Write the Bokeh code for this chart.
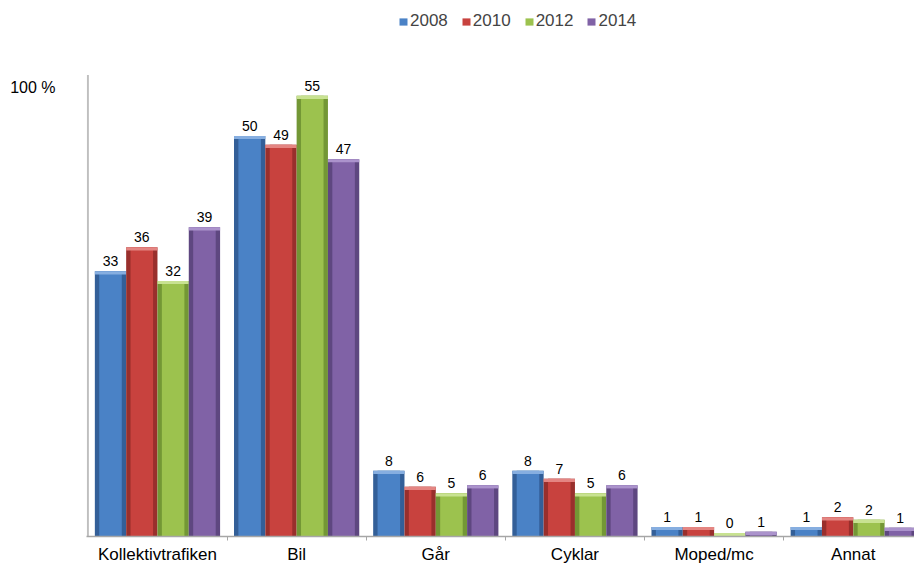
from bokeh.plotting import figure
from bokeh.models import Range1d, FixedTicker, Legend, LegendItem, ColumnDataSource
from bokeh.core.properties import value
from bokeh.embed import file_html
from bokeh.resources import INLINE

categories = ["Kollektivtrafiken", "Bil", "Går", "Cyklar", "Moped/mc", "Annat"]
years = ["2008", "2010", "2012", "2014"]
v2008 = [33.1, 50.0, 8.2, 8.2, 1.2, 1.2]
v2010 = [36.1, 48.9, 6.2, 7.2, 1.2, 2.4]
v2012 = [31.9, 55.0, 5.4, 5.4, 0.45, 2.1]
v2014 = [38.6, 47.1, 6.4, 6.4, 0.6, 1.1]
series = [v2008, v2010, v2012, v2014]
y_tick = [56.0]
y_tick_label = ["100 %"]
y_axis_max = 57.6

# (main, edge, top-bevel)
palette = [
    ("#4A82C6", "#335F98", "#86AEE0"),
    ("#C8423E", "#992F2C", "#E48582"),
    ("#9CC24E", "#739735", "#C8E291"),
    ("#8062A6", "#5E4780", "#AB93CC"),
]

FONT = "Liberation Sans"
BAR_W = 0.225

p = figure(width=914, height=566, output_backend="svg", toolbar_location=None,
           x_range=Range1d(-0.01, 5.94), y_range=Range1d(0, 65.9),
           min_border_left=86, min_border_right=0, min_border_top=8, min_border_bottom=0)
p.outline_line_color = None
p.xgrid.grid_line_color = None
p.ygrid.grid_line_color = None
p.background_fill_color = "white"
p.border_fill_color = "white"

# x axis
p.xaxis.ticker = FixedTicker(ticks=[i + 0.5 for i in range(len(categories))],
                             minor_ticks=[float(i) for i in range(1, len(categories))])
p.xaxis.major_label_overrides = {i + 0.5: c for i, c in enumerate(categories)}
p.xaxis.major_tick_out = 0
p.xaxis.major_tick_in = 0
p.xaxis.minor_tick_out = 4
p.xaxis.minor_tick_in = 0
p.xaxis.minor_tick_line_color = "#A6A6A6"
p.xaxis.axis_line_color = "#A6A6A6"
p.xaxis.axis_line_width = 1.5
p.xaxis.major_label_text_font = FONT
p.xaxis.major_label_text_font_size = "17px"
p.xaxis.major_label_text_color = "black"
p.xaxis.major_label_standoff = 4

# y axis: only the "100 %" label, no ticks; the visible line is drawn up to y_axis_max
p.yaxis.ticker = FixedTicker(ticks=y_tick, minor_ticks=[])
p.yaxis.major_label_overrides = dict(zip(y_tick, y_tick_label))
p.yaxis.major_tick_out = 0
p.yaxis.major_tick_in = 0
p.yaxis.minor_tick_out = 0
p.yaxis.minor_tick_in = 0
p.yaxis.axis_line_color = None
p.yaxis.major_label_text_font = FONT
p.yaxis.major_label_text_font_size = "16px"
p.yaxis.major_label_text_color = "black"
p.yaxis.major_label_standoff = 31
p.yaxis.major_label_orientation = "horizontal"
p.segment(x0=[0], y0=[0], x1=[0], y1=[y_axis_max], line_color="#BFBFBF", line_width=2)

legend_items = []
for j, (vals, yr, (main, edge, top)) in enumerate(zip(series, years, palette)):
    xs = [i + 0.05 + BAR_W / 2 + j * BAR_W for i in range(len(categories))]
    bevel = [max(v - 0.4, 0) for v in vals]
    labels = [f"{v:.0f}" for v in vals]
    src = ColumnDataSource(dict(x=xs, top=vals, bevel=bevel, label=labels))
    p.vbar(x="x", top="top", bottom=0, width=BAR_W, source=src,
           fill_color=edge, line_color=None)
    r = p.vbar(x="x", top="top", bottom=0, width=BAR_W * 0.72, source=src,
               fill_color=main, line_color=None)
    p.vbar(x="x", top="top", bottom="bevel", width=BAR_W, source=src,
           fill_color=top, line_color=None)
    p.text(x="x", y="top", text="label", source=src, text_align="center",
           text_baseline="alphabetic", y_offset=-10, text_font=value(FONT),
           text_font_size="14px", text_color="black")
    legend_items.append(LegendItem(label=yr, renderers=[r]))

legend = Legend(items=legend_items, orientation="horizontal", location=(312, 505),
                glyph_width=10, glyph_height=9, label_standoff=2, spacing=13,
                padding=0, margin=0, label_height=17,
                label_text_font=FONT, label_text_font_size="17px",
                border_line_color=None, background_fill_alpha=0)
p.add_layout(legend, "center")

open("out.html", "w").write(file_html(p, INLINE))
